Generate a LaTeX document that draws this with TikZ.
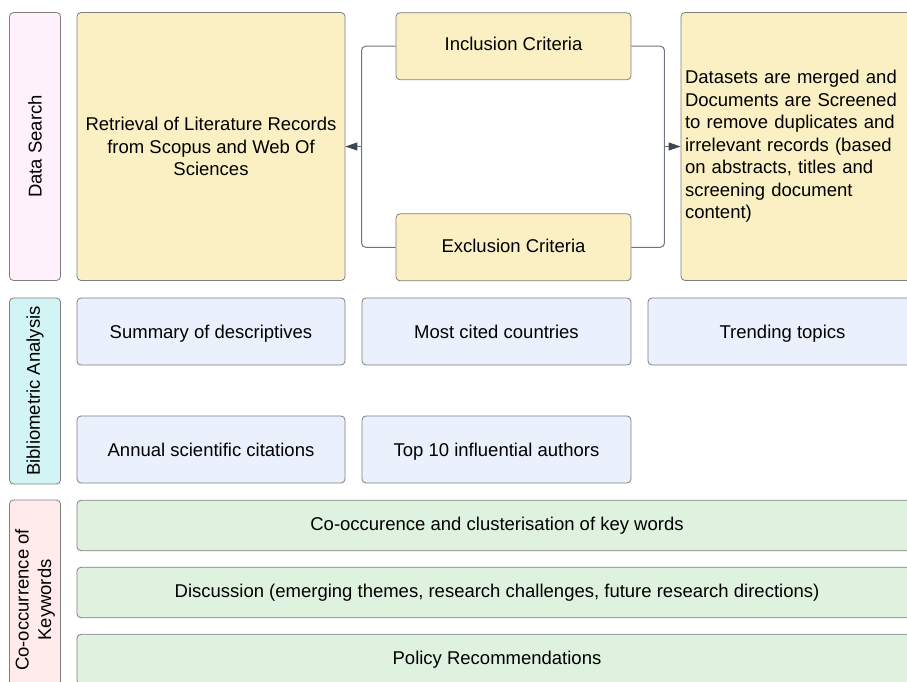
\documentclass[tikz,border=0pt]{standalone}
\usepackage{fontspec}
\setmainfont{Liberation Sans}
\usepackage{tikz}
\usetikzlibrary{arrows.meta}
\usepackage{xcolor}

\definecolor{lineGray}{HTML}{7E7E7E}
\definecolor{linkGray}{HTML}{6E7580}
\definecolor{tipGray}{HTML}{3D4550}
\definecolor{yellowFill}{HTML}{FAF0C3}
\definecolor{blueFill}{HTML}{EAF1FD}
\definecolor{greenFill}{HTML}{DFF2DF}
\definecolor{cyanFill}{HTML}{D3F4F5}
\definecolor{pinkFill}{HTML}{FEF1FC}
\definecolor{roseFill}{HTML}{FFEBEC}

\begin{document}
\begin{tikzpicture}[x=1pt, y=-1pt,
    box/.style={draw=lineGray, line width=0.8pt, rounded corners=4pt, align=center,
        font=\fontsize{18.5}{22.5}\selectfont, inner sep=4pt},
    single/.style={box, text height=13.5pt, text depth=0pt},
    crit/.style={box, fill=yellowFill, text height=13.5pt, text depth=4pt, minimum width=235pt, minimum height=67pt},
    row/.style={box, fill=greenFill, text height=13.5pt, text depth=4pt, minimum width=840pt, minimum height=50.5pt},
    lane/.style={box, rotate=90, minimum height=51pt},
    bracket/.style={draw=linkGray, line width=1pt, rounded corners=4pt},
    link/.style={draw=linkGray, line width=1pt,
        -{Triangle[length=12pt, width=8pt, color=tipGray]}}]
    \useasboundingbox (0,0) rectangle (907,682);
    \clip (0,0) rectangle (907,682);

    % Draw the lanes
    \node[lane, fill=pinkFill, minimum width=268pt] (search) at (35,146.5) {Data Search};
    \node[lane, fill=cyanFill, minimum width=186pt] (biblio) at (35,391) {Bibliometric Analysis};
    \node[lane, fill=roseFill, minimum width=200pt] (cooc) at (35,600) {Co-occurrence of\\Keywords};

    % Draw the data search step
    \node[box, fill=yellowFill, minimum width=268pt, minimum height=268pt] (retrieval) at (211,146.5)
        {Retrieval of Literature Records\\from Scopus and Web Of\\Sciences};
    \node[crit] (inclusion) at (513.5,46.25) {Inclusion Criteria};
    \node[crit] (exclusion) at (513.5,247.25) {Exclusion Criteria};
    \node[box, fill=yellowFill, text width=228pt, align=left, minimum height=268pt] (screening) at (799,146.5)
        {Datasets are merged and\\Documents are Screened\\to remove duplicates and\\irrelevant records (based\\on abstracts, titles and\\screening document\\content)};

    % Draw the criteria connectors
    \coordinate (leftjoin) at ([xshift=-34pt]inclusion.west |- retrieval.east);
    \coordinate (rightjoin) at ([xshift=33pt]inclusion.east |- screening.west);
    \draw[bracket] (inclusion.west) -- ++(-34,0) -- ([xshift=-34pt]exclusion.west) -- (exclusion.west);
    \draw[bracket] (inclusion.east) -- ++(33,0) -- ([xshift=33pt]exclusion.east) -- (exclusion.east);
    \draw[link] (leftjoin) -- (retrieval.east);
    \draw[link] (rightjoin) -- (screening.west);

    % Draw the bibliometric analysis
    \node[single, fill=blueFill, minimum width=268pt, minimum height=67pt] (summary) at (211,331.5) {Summary of descriptives};
    \node[single, fill=blueFill, minimum width=269pt, minimum height=67pt] (countries) at (496.5,331.5) {Most cited countries};
    \node[single, fill=blueFill, minimum width=269pt, minimum height=67pt] (trending) at (782.5,331.5) {Trending topics};
    \node[single, fill=blueFill, minimum width=268pt, minimum height=67pt] (annual) at (211,449.5) {Annual scientific citations};
    \node[single, fill=blueFill, minimum width=269pt, minimum height=67pt] (authors) at (496.5,449.5) {Top 10 influential authors};

    % Draw the keyword rows
    \node[row] (clusters) at (497,525.5) {Co-occurence and clusterisation of key words};
    \node[row] (discussion) at (497,592.5) {Discussion (emerging themes, research challenges, future research directions)};
    \node[row] (policy) at (497,659.5) {Policy Recommendations};
\end{tikzpicture}
\end{document}
